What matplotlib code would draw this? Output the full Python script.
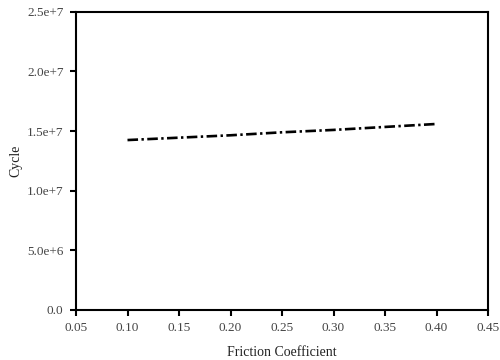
import matplotlib
matplotlib.use("Agg")
import matplotlib.pyplot as plt

friction = [0.10, 0.15, 0.20, 0.25, 0.30, 0.35, 0.40]
cycles = [1.425e7, 1.445e7, 1.465e7, 1.49e7, 1.51e7, 1.535e7, 1.56e7]

xticks = [0.05, 0.10, 0.15, 0.20, 0.25, 0.30, 0.35, 0.40, 0.45]
yticks = [0, 5e6, 1e7, 1.5e7, 2e7, 2.5e7]
ylabels = ["0.0", "5.0e+6", "1.0e+7", "1.5e+7", "2.0e+7", "2.5e+7"]

plt.rcParams['font.family'] = ['Liberation Serif', 'DejaVu Serif']

fig = plt.figure(figsize=(5, 3.6), dpi=100)
ax = fig.add_axes([0.152, 0.139, 0.824, 0.828])

ax.plot(friction, cycles, color='black', lw=1.9, dashes=(4, 1.3, 0.9, 1.3))

ax.set_xlim(0.05, 0.45)
ax.set_ylim(0, 2.5e7)
ax.set_xticks(xticks)
ax.set_xticklabels(["%.2f" % x for x in xticks])
ax.set_yticks(yticks)
ax.set_yticklabels(ylabels)

for s in ax.spines.values():
    s.set_linewidth(1.5)
ax.tick_params(direction='out', length=4, width=1.5, labelsize=9.5, labelcolor='#444444', pad=5)
ax.set_xlabel("Friction Coefficient", fontsize=10, color='#222222', labelpad=8)
ax.set_ylabel("Cycle", fontsize=10, color='#222222', labelpad=3)

fig.savefig("out.png", dpi=100)
